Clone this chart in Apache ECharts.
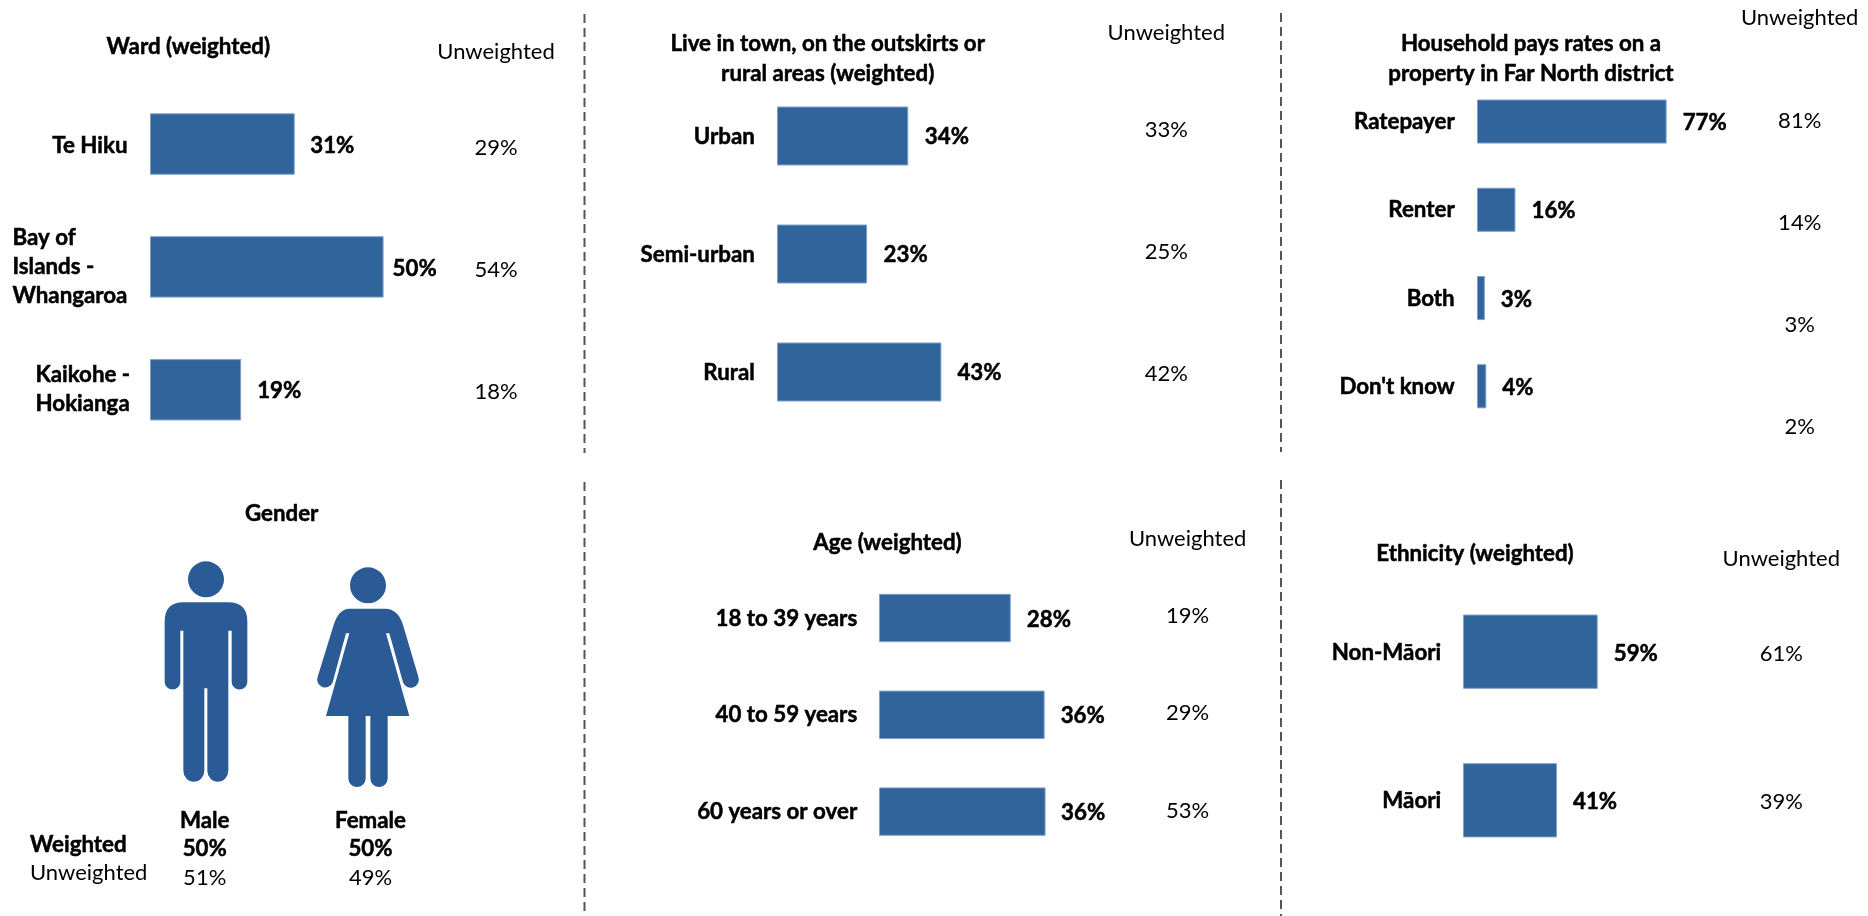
<!DOCTYPE html>
<html><head><meta charset="utf-8">
<style>html,body{margin:0;padding:0;background:#fff}#c{width:1868px;height:916px}</style>
<script src="https://cdn.jsdelivr.net/npm/echarts@6/dist/echarts.min.js"></script>
</head><body><div id="c"></div>
<script>
const wardCats = ['Te Hiku', 'Bay of\nIslands -\nWhangaroa', 'Kaikohe -\nHokianga'];
const wardValues = [30.8, 49.7, 19.4];
const wardUnweighted = [29, 54, 18];
const areaCats = ['Urban', 'Semi-urban', 'Rural'];
const areaValues = [34.1, 23.4, 42.7];
const areaUnweighted = [33, 25, 42];
const ratesCats = ['Ratepayer', 'Renter', 'Both', "Don't know"];
const ratesValues = [77.4, 15.7, 3.2, 3.8];
const ratesUnweighted = [81, 14, 3, 2];
const ageCats = ['18 to 39 years', '40 to 59 years', '60 years or over'];
const ageValues = [28.4, 35.7, 35.9];
const ageUnweighted = [19, 29, 53];
const ethnicityCats = ['Non-Māori', 'Māori'];
const ethnicityValues = [58.9, 41.1];
const ethnicityUnweighted = [61, 39];
const genderCats = ['Male', 'Female'];
const genderWeighted = [50, 50];
const genderUnweighted = [51, 49];

const FONT = 'Lato';
const BOLD = 22.3;
const REG = 22;
const TEXT = '#000';
const HEAVY = 0.5;
const BAR = '#32649c';
const EDGE = '#7fa1c9';
const ICON = '#2a5b96';

const panels = [
  {cats: wardCats, values: wardValues, unw: wardUnweighted, left: 150, top: 82.6, height: 368.6, scale: 4.7, labelRight: 127.5,
   dist: [15.5, 9, 16], blockWidths: [0, 115, 92], labelDrop: 2, unwX: 496, unwTop: 86.6, unwH: 366.6, dy: 1.5,
   title: ['Ward (weighted)'], titleX: 188.3, titleY: 47.3, headX: 496, headY: 52.3},
  {cats: areaCats, values: areaValues, unw: areaUnweighted, left: 777, top: 77, height: 354, scale: 3.85, labelRight: 754.8,
   dist: [16.5, 16.5, 16], labelDrop: 1, unwX: 1166.3, unwTop: 68.8, unwH: 366, dy: 1.2,
   title: ['Live in town, on the outskirts or', 'rural areas (weighted)'], titleX: 827.7, titleY: 43.7, headX: 1166.3, headY: 33},
  {cats: ratesCats, values: ratesValues, unw: ratesUnweighted, left: 1477, top: 77.4, height: 353, scale: 2.45, labelRight: 1454.7,
   dist: [16, 16, 16, 16], labelDrop: 0.5, unwX: 1799.7, unwTop: 69.5, unwH: 409, dy: 1.5,
   title: ['Household pays rates on a', 'property in Far North district'], titleX: 1531, titleY: 43.7, headX: 1799.7, headY: 17.7},
  {cats: ageCats, values: ageValues, unw: ageUnweighted, left: 879, top: 569.6, height: 290.4, scale: 4.64, labelRight: 857.2,
   dist: [16, 16, 15.5], labelDrop: 0.5, unwX: 1187.6, unwTop: 567.3, unwH: 292, dy: 1.5,
   title: ['Age (weighted)'], titleX: 887.5, titleY: 543.3, headX: 1187.6, headY: 539},
  {cats: ethnicityCats, values: ethnicityValues, unw: ethnicityUnweighted, left: 1463, top: 577.4, height: 297.2, scale: 2.287, labelRight: 1441.2,
   dist: [16, 16], labelDrop: 1, unwX: 1781.3, unwTop: 579.4, unwH: 297.2, dy: 2,
   title: ['Ethnicity (weighted)'], titleX: 1475, titleY: 554, headX: 1781.3, headY: 559.3}
];

const grid = [], xAxis = [], yAxis = [], series = [], graphic = [];
const heavyText = {textBorderColor: TEXT, textBorderWidth: HEAVY};

function txt(text, x, y, bold, align) {
  graphic.push({type: 'text', x, y, silent: true, style: Object.assign({
    text, fill: TEXT, font: (bold ? 'bold ' + BOLD : REG) + 'px ' + FONT,
    align: align || 'center', verticalAlign: 'middle'}, bold ? {stroke: TEXT, lineWidth: HEAVY} : {})});
}

function catFormatter(blockWidths) {
  return function (name, idx) {
    const style = blockWidths[idx] ? 's' + blockWidths[idx] : 'single';
    return name.split('\n').map(l => '{' + style + '|' + l + '}').join('\n');
  };
}

panels.forEach(p => {
  const base = Object.assign({fontFamily: FONT, fontSize: BOLD, fontWeight: 'bold', color: TEXT, lineHeight: 29}, heavyText);
  const rich = {single: Object.assign({padding: [p.labelDrop * 2, 0, 0, 0]}, base)};
  (p.blockWidths || []).forEach(w => {
    if (w) rich['s' + w] = Object.assign({width: w, align: 'left'}, base);
  });
  const g = grid.length;
  grid.push({left: p.left, top: p.top, width: p.scale * 100, height: p.height, containLabel: false});
  xAxis.push({gridIndex: g, type: 'value', min: 0, max: 100, show: false});
  yAxis.push({gridIndex: g, type: 'category', inverse: true, data: p.cats,
    axisLine: {show: false}, axisTick: {show: false}, splitLine: {show: false},
    axisLabel: {interval: 0, margin: p.left - p.labelRight, align: 'right', fontFamily: FONT, fontSize: BOLD,
      fontWeight: 'bold', color: TEXT, lineHeight: 29,
      formatter: catFormatter(p.blockWidths || []), rich}});
  series.push({type: 'bar', xAxisIndex: g, yAxisIndex: g, barWidth: '50%', silent: true,
    itemStyle: {color: BAR, borderColor: EDGE, borderWidth: 1},
    data: p.values.map((v, i) => ({value: v, label: {distance: p.dist[i]}})),
    label: Object.assign({show: true, position: 'right', offset: [0, p.dy], fontFamily: FONT, fontSize: BOLD, fontWeight: 'bold', color: TEXT,
      formatter: o => Math.round(o.value) + '%'}, heavyText)});
  const h = grid.length;
  grid.push({left: p.unwX, top: p.unwTop, width: 1, height: p.unwH, containLabel: false});
  xAxis.push({gridIndex: h, type: 'value', min: 0, max: 1, show: false});
  yAxis.push({gridIndex: h, type: 'category', inverse: true, data: p.unw.map(v => v + '%'),
    axisLine: {show: false}, axisTick: {show: false}, splitLine: {show: false},
    axisLabel: {interval: 0, margin: 0, align: 'center', fontFamily: FONT, fontSize: REG, color: TEXT}});
  p.title.forEach((t, i) => txt(t, p.titleX, p.titleY + i * 29.7, true));
  txt('Unweighted', p.headX, p.headY, false);
});

// Gender panel
txt('Gender', 281.7, 514.3, true);
const genderX = [204.7, 370.5];
genderCats.forEach((c, i) => {
  txt(c, genderX[i], 820.7, true);
  txt(genderWeighted[i] + '%', genderX[i], 849.3, true);
  txt(genderUnweighted[i] + '%', genderX[i], 878.3, false);
});
txt('Weighted', 30, 845.3, true, 'left');
txt('Unweighted', 30, 873.3, false, 'left');

const circle = (cx, cy, r) => `M${cx - r} ${cy}A${r} ${r} 0 1 1 ${cx + r} ${cy}A${r} ${r} 0 1 1 ${cx - r} ${cy}Z`;
const malePath = circle(198, 88, 54) +
  'M130 157L265 157Q322 157 322 215L322 395A23.5 23.5 0 0 1 275 395L275 242L265 242L265 662A31.5 33 0 0 1 202 662L202 415L193 415L193 662A31.5 33 0 0 1 130 662L130 242L121 242L121 395A23.5 23.5 0 0 1 74 395L74 215Q74 157 130 157Z';
const femalePath = circle(684, 106, 54) +
  'M630 176L735 176Q775 176 790 228L835 380A24 24 0 0 1 789 397L748 250L738 250L808 498L743 498L743 685A26 26 0 0 1 691 685L691 498L677 498L677 685A26 26 0 0 1 625 685L625 498L558 498L628 250L618 250L578 397A24 24 0 0 1 533 380L580 228Q595 176 630 176Z';
series.push({type: 'custom', coordinateSystem: 'none', silent: true, data: [0, 1],
  renderItem: (params) => ({type: 'path', x: 140, y: 550, scaleX: 1 / 3, scaleY: 1 / 3,
    shape: {pathData: params.dataIndex === 0 ? malePath : femalePath}, style: {fill: ICON}})});

// Dashed separators
const DASH = {stroke: '#555', lineWidth: 2, lineDash: [9, 5]};
[[584.5, 14, 453], [584.5, 482, 914], [1281, 13, 452], [1281, 480, 916]].forEach(([x, y1, y2]) =>
  graphic.push({type: 'line', silent: true, shape: {x1: x, y1, x2: x, y2}, style: DASH}));

const chart = echarts.init(document.getElementById('c'), null, {renderer: 'canvas'});
chart.setOption({animation: false, backgroundColor: '#fff', grid, xAxis, yAxis, series, graphic: {elements: graphic}});
</script></body></html>
